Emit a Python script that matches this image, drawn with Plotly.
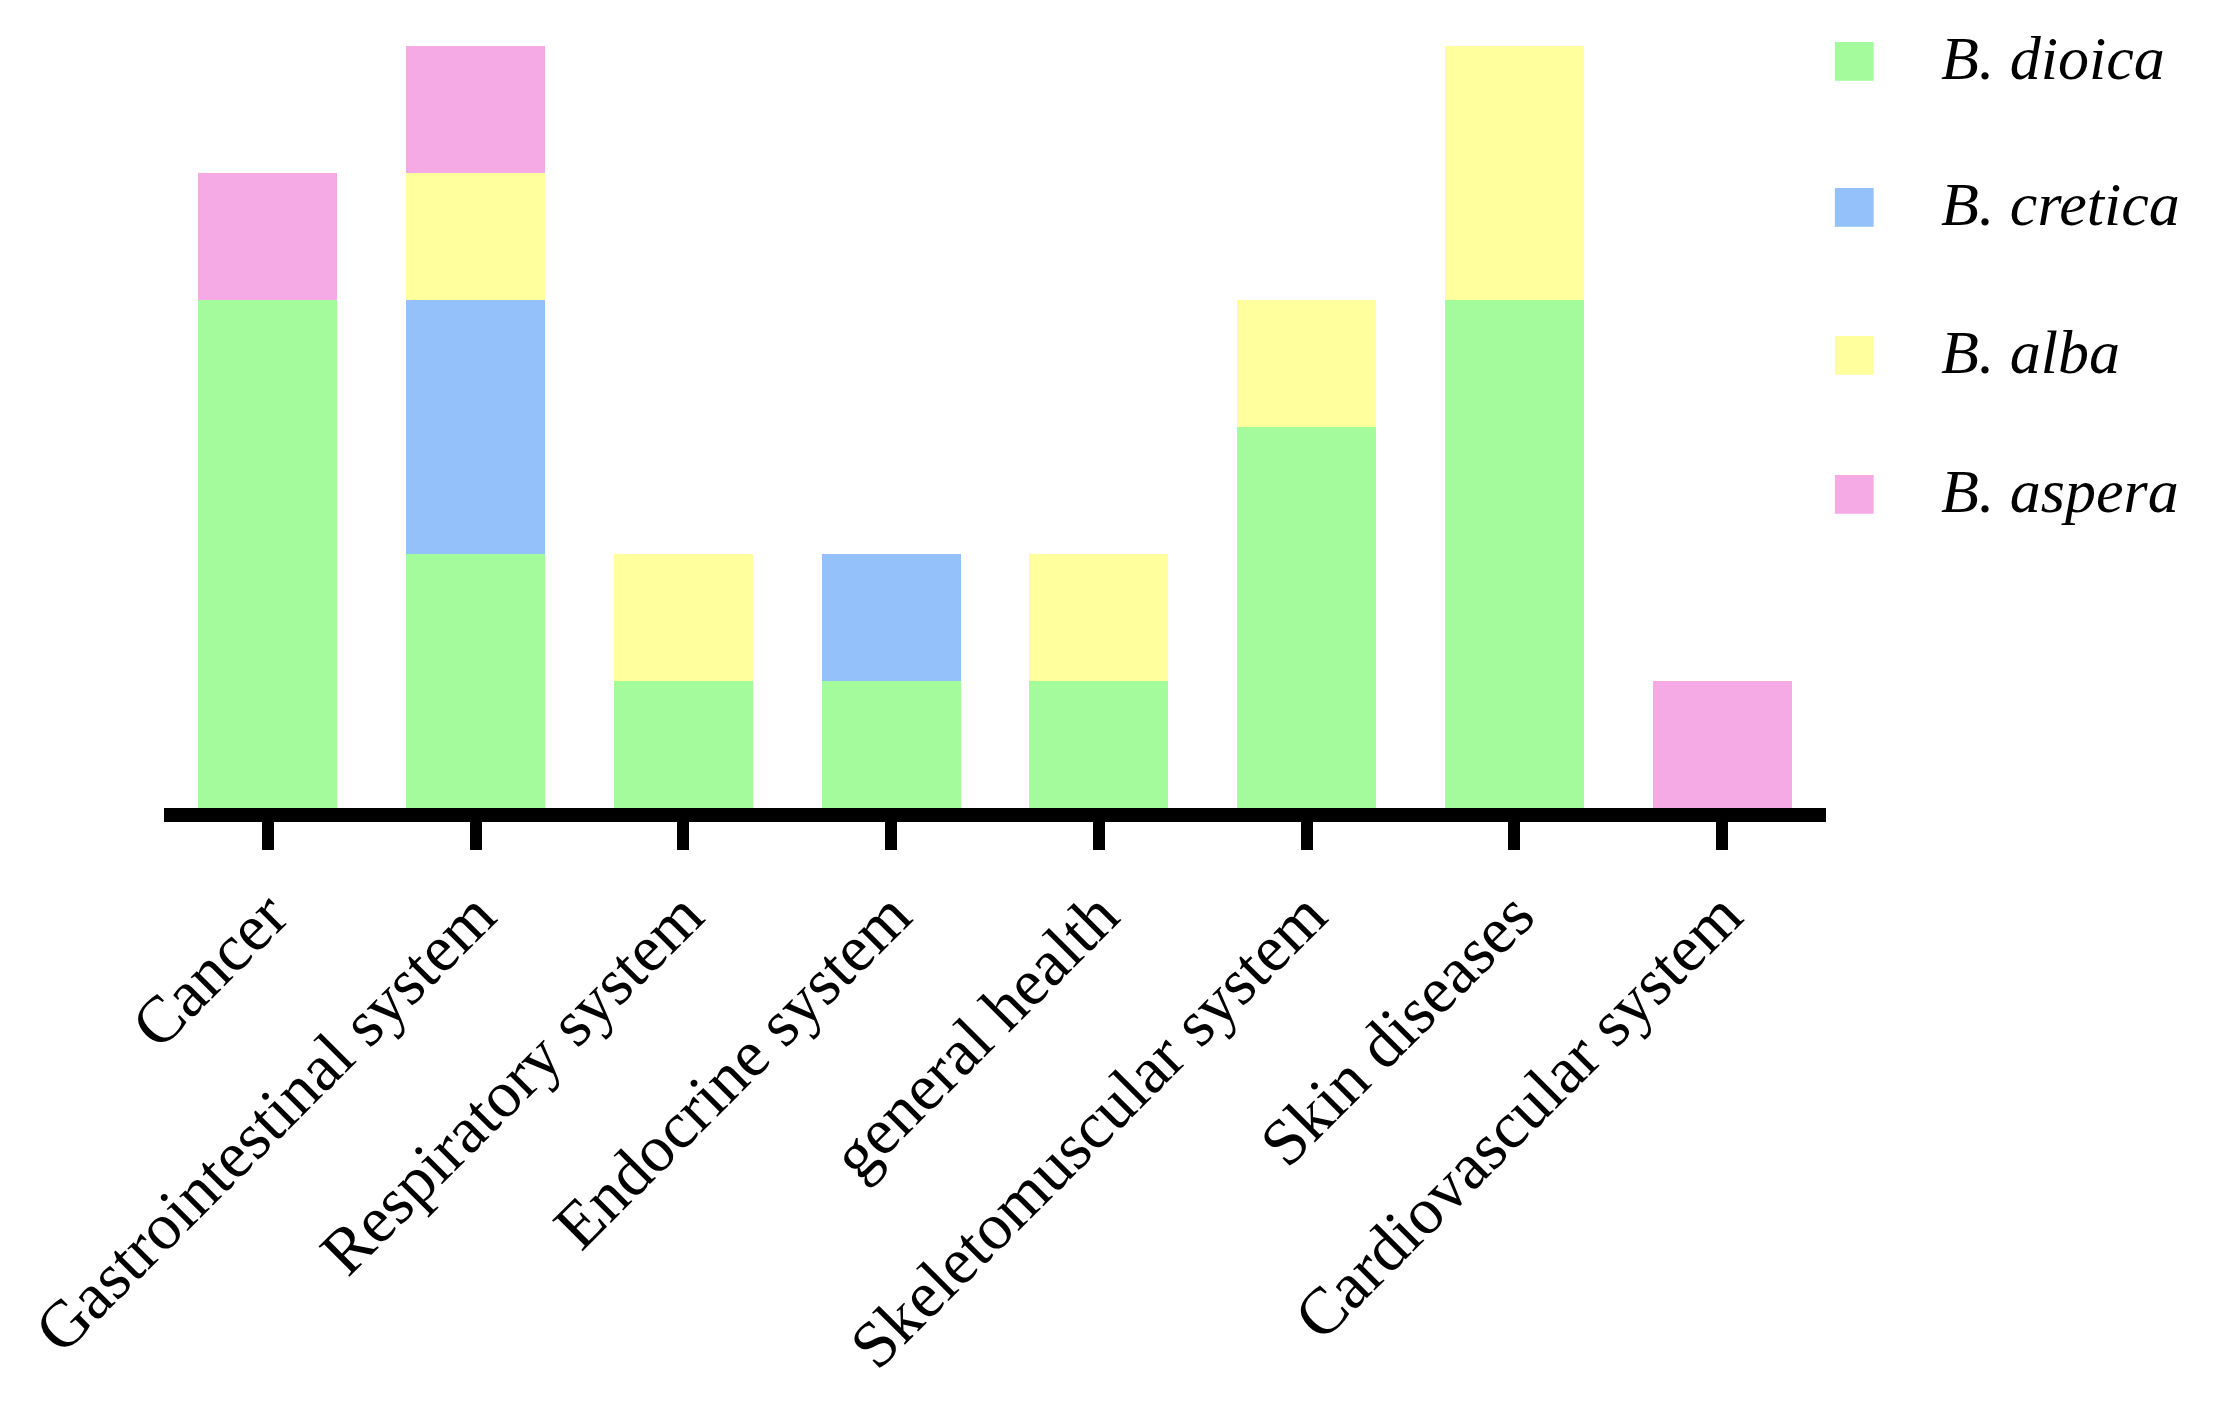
import plotly.graph_objects as go

categories = ["Cancer", "Gastrointestinal system", "Respiratory system", "Endocrine system",
              "general health", "Skeletomuscular system", "Skin diseases", "Cardiovascular system"]
dioica = [4, 2, 1, 1, 1, 3, 4, 0]
cretica = [0, 2, 0, 1, 0, 0, 0, 0]
alba = [0, 1, 1, 0, 1, 1, 2, 0]
aspera = [1, 1, 0, 0, 0, 0, 0, 1]

series = [
    ("B. dioica", dioica, "#A3FB9C"),
    ("B. cretica", cretica, "#94C1F9"),
    ("B. alba", alba, "#FFFF9E"),
    ("B. aspera", aspera, "#F5AAE6"),
]
legend_y = [0.984, 0.793, 0.598, 0.416]

fig = go.Figure()
for (name, vals, color), ly in zip(series, legend_y):
    fig.add_trace(go.Bar(
        x=categories, y=vals, name=name,
        marker=dict(color=color, line=dict(width=0)),
        showlegend=False,
    ))
    # legend drawn as annotations to get large square swatches
    fig.add_annotation(x=1.017, y=ly, xref="paper", yref="paper", text="■",
                       showarrow=False, font=dict(size=80, color=color),
                       xanchor="center", yanchor="middle")
    fig.add_annotation(x=1.068, y=ly, xref="paper", yref="paper", text="<i>" + name + "</i>",
                       showarrow=False, font=dict(size=62, color="black"),
                       xanchor="left", yanchor="middle")

fig.update_layout(
    barmode="stack",
    bargap=0.33,
    width=2219, height=1402,
    paper_bgcolor="white", plot_bgcolor="white",
    margin=dict(l=156, r=401, t=38, b=602),
    font=dict(family="Liberation Serif", color="black", size=66),
    xaxis=dict(showline=True, linecolor="black", linewidth=14,
               ticks="outside", ticklen=28, tickwidth=12, tickcolor="black",
               tickangle=-45, tickfont=dict(size=66)),
    yaxis=dict(visible=False, range=[0, 6], showgrid=False),
)

fig.write_html("out.html")
